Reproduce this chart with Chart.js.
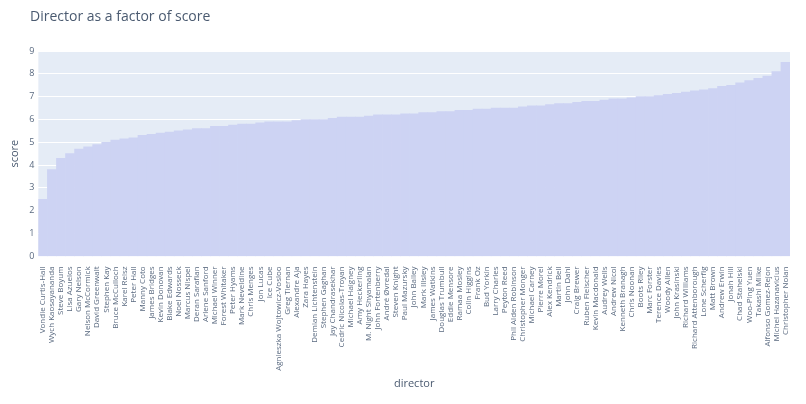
<!DOCTYPE html>
<html>
<head>
<meta charset="utf-8">
<script src="https://cdn.jsdelivr.net/npm/chart.js@4"></script>
<style>
  html, body { margin: 0; padding: 0; background: #fff; }
  #wrap { position: relative; width: 806px; height: 404px; }
  #title { position: absolute; left: 30px; top: 6px; font: 14px "Open Sans", sans-serif; color: #4a5a70; }
</style>
</head>
<body>
<div id="wrap">
  <div id="title">Director as a factor of score</div>
  <canvas id="chart" width="806" height="404"></canvas>
</div>
<script>
const directors = ['Vondie Curtis-Hall', 'Wych Kaosayananda', 'Steve Boyum', 'Lisa Azuelos', 'Gary Nelson',
  'Nelson McCormick', 'David Greenwalt', 'Stephen Kay', 'Bruce McCulloch', 'Karel Reisz', 'Peter Hall',
  'Manny Coto', 'James Bridges', 'Kevin Donovan', 'Blake Edwards', 'Noel Nosseck', 'Marcus Nispel',
  'Deran Sarafian', 'Arlene Sanford', 'Michael Winner', 'Forest Whitaker', 'Peter Hyams', 'Mark Neveldine',
  'Chris Menges', 'Jon Lucas', 'Ice Cube', 'Agnieszka Wojtowicz-Vosloo', 'Greg Tiernan', 'Alexandre Aja',
  'Zara Hayes', 'Demian Lichtenstein', 'Stephen Gaghan', 'Jay Chandrasekhar', 'Cedric Nicolas-Troyan',
  'Michael Haigney', 'Amy Heckerling', 'M. Night Shyamalan', 'John Fortenberry', 'André Øvredal',
  'Steven Knight', 'Paul Mazursky', 'John Bailey', 'Mark Illsley', 'James Watkins', 'Douglas Trumbull',
  'Eddie Mensore', 'Ramaa Mosley', 'Colin Higgins', 'Frank Oz', 'Bud Yorkin', 'Larry Charles', 'Peyton Reed',
  'Phil Alden Robinson', 'Christopher Monger', 'Michael Carney', 'Pierre Morel', 'Alex Kendrick',
  'Martin Bell', 'John Dahl', 'Craig Brewer', 'Ruben Fleischer', 'Kevin Macdonald', 'Audrey Wells',
  'Andrew Nicol', 'Kenneth Branagh', 'Chris Noonan', 'Boots Riley', 'Marc Forster', 'Terence Davies',
  'Woody Allen', 'John Krasinski', 'Richard Williams', 'Richard Attenborough', 'Lone Scherfig',
  'Matt Brown', 'Andrew Erwin', 'Jonah Hill', 'Chad Stahelski', 'Woo-Ping Yuen', 'Takashi Miike',
  'Alfonso Gomez-Rejon', 'Michel Hazanavicius', 'Christopher Nolan'];

const scores = [2.5, 3.8, 4.3, 4.5, 4.7, 4.8, 4.9, 5.0, 5.1, 5.15,
  5.2, 5.3, 5.35, 5.4, 5.45, 5.5, 5.55, 5.6, 5.6, 5.7,
  5.7, 5.75, 5.8, 5.8, 5.85, 5.9, 5.9, 5.9, 5.95, 6.0,
  6.0, 6.0, 6.05, 6.1, 6.1, 6.1, 6.15, 6.2, 6.2, 6.2,
  6.25, 6.25, 6.3, 6.3, 6.35, 6.35, 6.4, 6.4, 6.45, 6.45,
  6.5, 6.5, 6.5, 6.55, 6.6, 6.6, 6.65, 6.7, 6.7, 6.75,
  6.8, 6.8, 6.85, 6.9, 6.9, 6.95, 7.0, 7.0, 7.05, 7.1,
  7.15, 7.2, 7.25, 7.3, 7.35, 7.45, 7.5, 7.6, 7.7, 7.8,
  7.9, 8.1, 8.5];

const yTicks = [0, 1, 2, 3, 4, 5, 6, 7, 8, 9];

// plot background like plotly
const plotBg = {
  id: 'plotBg',
  beforeDraw(chart) {
    const { ctx, chartArea: a } = chart;
    ctx.save();
    ctx.fillStyle = '#e5ecf6';
    ctx.fillRect(a.left, a.top, a.right - a.left, a.bottom - a.top);
    ctx.restore();
  }
};

new Chart(document.getElementById('chart'), {
  type: 'bar',
  data: {
    labels: directors,
    datasets: [{
      label: 'score',
      data: scores,
      backgroundColor: '#cdd3f3',
      borderWidth: 0,
      barPercentage: 1,
      categoryPercentage: 1
    }]
  },
  options: {
    responsive: false,
    animation: false,
    layout: { padding: { top: 51, right: 16, left: 4, bottom: 10 } },
    plugins: { legend: { display: false }, tooltip: { enabled: false } },
    scales: {
      x: {
        grid: { display: false },
        border: { display: false },
        ticks: {
          autoSkip: false, maxRotation: 90, minRotation: 90,
          color: '#5a6a80', font: { family: 'Open Sans', size: 8 }, padding: 2
        },
        title: { display: true, text: 'director', color: '#4a5a70', font: { family: 'Open Sans', size: 11 } }
      },
      y: {
        min: 0, max: 9,
        afterBuildTicks(axis) { axis.ticks = yTicks.map(v => ({ value: v })); },
        grid: { color: '#ffffff', lineWidth: 1, drawTicks: false },
        border: { display: false },
        ticks: { color: '#5a6a80', font: { family: 'Open Sans', size: 9 }, padding: 4 },
        title: { display: true, text: 'score', color: '#4a5a70', font: { family: 'Open Sans', size: 11 } }
      }
    }
  },
  plugins: [plotBg]
});
</script>
</body>
</html>
